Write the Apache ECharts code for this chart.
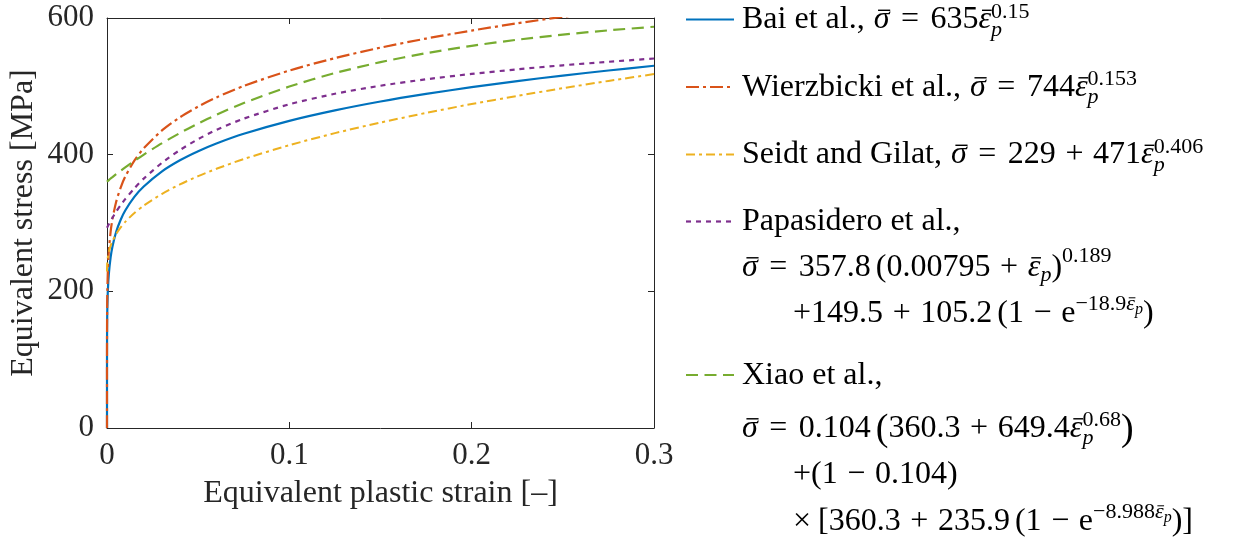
<!DOCTYPE html>
<html>
<head>
<meta charset="utf-8">
<script src="https://cdn.jsdelivr.net/npm/echarts@6/dist/echarts.min.js"></script>
<style>
html,body{margin:0;padding:0;background:#fff;}
#chart{width:1240px;height:543px;}
</style>
</head>
<body>
<div id="chart"></div>
<script>
// ---- data ----
const strain = [0, 0.000001, 0.00001, 0.00005, 0.0001, 0.0002, 0.0005, 0.001, 0.002, 0.003, 0.005, 0.0075, 0.01, 0.015, 0.02, 0.03, 0.04, 0.05, 0.06, 0.075, 0.1, 0.125, 0.15, 0.175, 0.2, 0.225, 0.25, 0.275, 0.3];
const bai = [0, 79.9, 112.9, 143.8, 159.5, 177.0, 203.1, 225.3, 250.0, 265.7, 286.8, 304.8, 318.3, 338.2, 353.1, 375.3, 391.8, 405.1, 416.4, 430.6, 449.5, 464.8, 477.8, 488.9, 498.8, 507.7, 515.8, 523.2, 530.1];
const wierzbicki = [0, 89.9, 127.8, 163.5, 181.8, 202.1, 232.6, 258.5, 287.5, 305.9, 330.8, 351.9, 367.8, 391.3, 408.9, 435.1, 454.7, 470.4, 483.7, 500.6, 523.1, 541.3, 556.6, 569.9, 581.6, 592.2, 601.8, 610.7, 618.9];
const seidt = [229, 230.7, 233.4, 237.4, 240.2, 243.8, 250.5, 257.5, 266.8, 273.5, 283.8, 293.6, 301.6, 314.6, 325.2, 342.4, 356.5, 368.6, 379.3, 393.6, 413.9, 431.5, 447.0, 461.1, 474.1, 486.0, 497.3, 507.9, 517.9];
const papasidero = [293.0, 293.0, 293.1, 293.3, 293.5, 294.1, 295.7, 298.2, 303.1, 307.7, 316.4, 326.1, 335.0, 350.8, 364.6, 387.8, 406.8, 422.7, 436.2, 452.7, 473.7, 489.1, 500.9, 510.3, 518.2, 524.9, 530.8, 535.9, 540.7];
const xiao = [360.3, 360.3, 360.3, 360.5, 360.6, 360.9, 361.6, 362.8, 365.1, 367.2, 371.4, 376.5, 381.4, 390.8, 399.8, 416.5, 431.7, 445.6, 458.4, 475.6, 499.7, 519.4, 535.4, 548.5, 559.3, 568.2, 575.6, 581.9, 587.2];
const xTickLabels = ['0', '0.1', '0.2', '0.3'];
const yTickLabels = ['0', '200', '400', '600'];
const seriesNames = ['Bai et al.', 'Wierzbicki et al.', 'Seidt and Gilat', 'Papasidero et al.', 'Xiao et al.'];

// ---- styling ----
const FONT = 'Liberation Serif';
const FT = 31;            // tick labels
const FN = 32;            // axis names
const F = 32, S = 22, SS = 16;   // legend text
const AX = '#262626';
const colors = ['#0072BD', '#D95319', '#EDB120', '#7E2F8E', '#77AC30'];
const dashes = [null, [13, 4, 3, 4], [9, 4, 3, 4], [5, 5], [12, 6.5]];
const widths = [2.2, 2.2, 2, 2.2, 2.2];
const values = [bai, wierzbicki, seidt, papasidero, xiao];

function pairs(ys) { return strain.map((x, i) => [x, ys[i]]); }

const cv = document.createElement('canvas');
const ctx = cv.getContext('2d');
function measure(t, size, it) {
  ctx.font = (it ? 'italic ' : '') + size + 'px "' + FONT + '"';
  return ctx.measureText(t).width;
}
const K = 0.3;
function mathLine(x0, base, items) {
  const els = [];
  let cx = x0, prevStart = x0, prevEnd = x0;
  items.forEach(it => {
    if (it.g !== undefined) { cx += it.g; prevStart = cx; prevEnd = cx; return; }
    const size = it.s || F;
    const start = it.stack ? prevStart : cx;
    const w = measure(it.t, size, it.i);
    const yb = base + (it.dy || 0);
    els.push({
      type: 'text', silent: true,
      x: start, y: yb - K * size,
      style: {
        text: it.t, fontFamily: FONT, fontSize: size,
        fontStyle: it.i ? 'italic' : 'normal', fill: '#000',
        align: 'left', verticalAlign: 'middle'
      }
    });
    if (it.bar) {
      const by = yb - 0.6 * size;
      els.push({
        type: 'line', silent: true,
        shape: { x1: start + 0.28 * w, y1: by, x2: start + 1.05 * w, y2: by },
        style: { stroke: '#000', lineWidth: Math.max(1, size * 0.045) }
      });
    }
    const end = start + w;
    cx = it.stack ? Math.max(prevEnd, end) : end;
    prevStart = start; prevEnd = end;
  });
  return els;
}
// helpers for math items
const R = (t, o) => Object.assign({ t: t }, o || {});
const SIG = () => ({ t: 'σ', i: 1, bar: 1 });
const EPS = (o) => Object.assign({ t: 'ε', i: 1, bar: 1 }, o || {});
const rel = (t) => [{ g: F * 0.36 }, { t: t }, { g: F * 0.36 }];
const bin = (t) => [{ g: F * 0.3 }, { t: t }, { g: F * 0.3 }];
const flat = a => [].concat(...a.map(x => Array.isArray(x) ? x : [x]));

const LX = 742, CX = 793;
const graphics = [];
function sample(idx, y) {
  graphics.push({
    type: 'line', silent: true,
    shape: { x1: 686, y1: y, x2: 734, y2: y },
    style: { stroke: colors[idx], lineWidth: widths[idx], lineDash: dashes[idx] || null }
  });
}
const SUP = -11, SUB = 7;
// Bai
sample(0, 19.5);
graphics.push(...mathLine(LX, 29.5, flat([
  R('Bai et al.,'), { g: 9 }, SIG(), rel('='), R('635'), EPS(),
  R('0.15', { s: S, dy: SUP }), R('p', { s: S, i: 1, dy: SUB, stack: 1 })
])));
// Wierzbicki
sample(1, 87);
graphics.push(...mathLine(LX, 97, flat([
  R('Wierzbicki et al.,'), { g: 9 }, SIG(), rel('='), R('744'), EPS(),
  R('0.153', { s: S, dy: SUP }), R('p', { s: S, i: 1, dy: SUB, stack: 1 })
])));
// Seidt
sample(2, 154.5);
graphics.push(...mathLine(LX, 164.5, flat([
  R('Seidt and Gilat,'), { g: 9 }, SIG(), rel('='), R('229'), bin('+'), R('471'), EPS(),
  R('0.406', { s: S, dy: SUP }), R('p', { s: S, i: 1, dy: SUB, stack: 1 })
])));
// Papasidero
sample(3, 221.5);
graphics.push(...mathLine(LX, 231.5, [R('Papasidero et al.,')]));
graphics.push(...mathLine(LX, 277, flat([
  SIG(), rel('='), R('357.8'), { g: 5 }, R('(0.00795'), bin('+'), EPS(),
  R('p', { s: S, i: 1, dy: 5 }), R(')'), R('0.189', { s: S, dy: -14 })
])));
graphics.push(...mathLine(CX, 323, flat([
  R('+149.5'), bin('+'), R('105.2'), { g: 5 }, R('(1'), bin('\u2212'), R('e'),
  R('\u221218.9', { s: S, dy: -12 }), EPS({ s: S, dy: -12 }), R('p', { s: SS, i: 1, dy: -8 }), R(')')
])));
// Xiao
sample(4, 375);
graphics.push(...mathLine(LX, 385, [R('Xiao et al.,')]));
graphics.push(...mathLine(LX, 438, flat([
  SIG(), rel('='), R('0.104'), { g: 5 }, R('(', { s: 38, dy: 3 }), R('360.3'), bin('+'), R('649.4'),
  EPS(), R('0.68', { s: S, dy: SUP }), R('p', { s: S, i: 1, dy: SUB, stack: 1 }),
  R(')', { s: 38, dy: 3 })
])));
graphics.push(...mathLine(CX, 484, flat([R('+(1'), bin('\u2212'), R('0.104)')])));
graphics.push(...mathLine(CX, 531, flat([
  R('\u00d7'), { g: 7 }, R('[360.3'), bin('+'), R('235.9'), { g: 5 }, R('(1'), bin('\u2212'), R('e'),
  R('\u22128.988', { s: S, dy: -12 }), EPS({ s: S, dy: -12 }), R('p', { s: SS, i: 1, dy: -8 }), R(')]')
])));

const chart = echarts.init(document.getElementById('chart'), null, { renderer: 'canvas' });
const tickFmtX = v => { const i = Math.round(v / 0.1); return xTickLabels[i] !== undefined ? xTickLabels[i] : ''; };
const tickFmtY = v => { const i = Math.round(v / 200); return yTickLabels[i] !== undefined ? yTickLabels[i] : ''; };
const baseAxis = {
  axisLine: { show: true, onZero: false, lineStyle: { color: AX, width: 1 } },
  axisTick: { show: true, inside: true, length: 6, lineStyle: { color: AX, width: 1 } },
  splitLine: { show: false }
};
chart.setOption({
  animation: false,
  backgroundColor: '#fff',
  textStyle: { fontFamily: FONT },
  grid: { left: 107, right: 586, top: 18, bottom: 115, containLabel: false, outerBoundsMode: 'none' },
  xAxis: [
    Object.assign({}, baseAxis, {
      type: 'value', min: 0, max: 0.3, interval: 0.1, position: 'bottom',
      axisLabel: { formatter: tickFmtX, fontFamily: FONT, fontSize: FT, color: AX, margin: 12 },
      name: 'Equivalent plastic strain [\u2013]', nameLocation: 'middle', nameGap: 50,
      nameTextStyle: { fontFamily: FONT, fontSize: FN, color: AX }
    }),
    Object.assign({}, baseAxis, {
      type: 'value', min: 0, max: 0.3, interval: 0.1, position: 'top',
      axisLabel: { show: false }
    })
  ],
  yAxis: [
    Object.assign({}, baseAxis, {
      type: 'value', min: 0, max: 600, interval: 200, position: 'left',
      axisLabel: { formatter: tickFmtY, fontFamily: FONT, fontSize: FT, color: AX, margin: 13 },
      name: 'Equivalent stress [MPa]', nameLocation: 'middle', nameGap: 67,
      nameTextStyle: { fontFamily: FONT, fontSize: FN, color: AX }
    }),
    Object.assign({}, baseAxis, {
      type: 'value', min: 0, max: 600, interval: 200, position: 'right',
      axisLabel: { show: false }
    })
  ],
  series: values.map((v, i) => ({
    name: seriesNames[i], type: 'line', data: pairs(v), showSymbol: false, symbol: 'none',
    clip: true, smooth: 0.25, z: 2 + i,
    lineStyle: { color: colors[i], width: widths[i], type: dashes[i] || 'solid', cap: 'butt' }
  })),
  graphic: graphics
});
</script>
</body>
</html>
